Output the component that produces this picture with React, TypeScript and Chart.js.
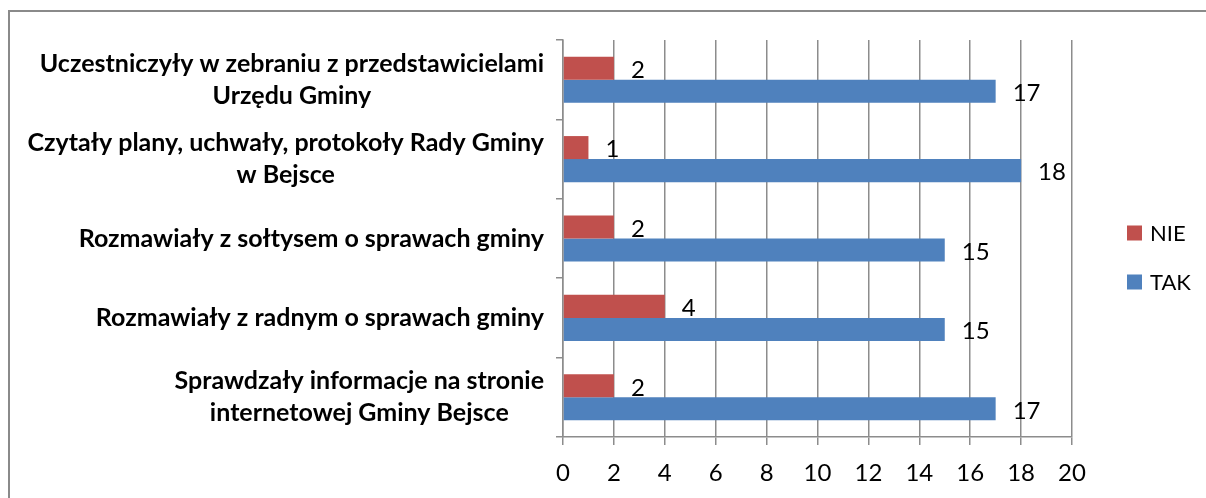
import React, { useEffect, useRef } from "react";
import { Chart, registerables } from "chart.js";

Chart.register(...registerables);

const categories: string[][] = [
  ["Uczestniczyły w zebraniu z przedstawicielami", "Urzędu Gminy"],
  ["Czytały plany, uchwały, protokoły Rady Gminy", "w Bejsce"],
  ["Rozmawiały z sołtysem o sprawach gminy"],
  ["Rozmawiały z radnym o sprawach gminy"],
  ["Sprawdzały informacje na stronie", "internetowej Gminy Bejsce"],
];
const nieValues = [2, 1, 2, 4, 2];
const takValues = [17, 18, 15, 15, 17];
const seriesNames = ["NIE", "TAK"];
const xTicks = [0, 2, 4, 6, 8, 10, 12, 14, 16, 18, 20];

const FONT = "Lato, 'Noto Sans', sans-serif";
const GRID = "#8c8c8c";

const customPlugin = {
  id: "custom",
  beforeDraw(chart: any) {
    const ctx = chart.ctx;
    ctx.save();
    ctx.fillStyle = "#ffffff";
    ctx.fillRect(0, 0, chart.width, chart.height);
    ctx.strokeStyle = "#8a8a8a";
    ctx.lineWidth = 2;
    ctx.beginPath();
    ctx.moveTo(9, chart.height);
    ctx.lineTo(9, 11);
    ctx.lineTo(chart.width, 11);
    ctx.stroke();
    ctx.restore();
  },
  afterDraw(chart: any) {
    const ctx = chart.ctx;
    const yScale = chart.scales.y;
    ctx.save();
    // category labels
    ctx.fillStyle = "#000000";
    ctx.font = `bold 25px ${FONT}`;
    ctx.textBaseline = "middle";
    ctx.textAlign = "center";
    const lineH = 32;
    const rightEdge = 544;
    (chart.data.labels as string[][]).forEach((lab, i) => {
      const yc = yScale.getPixelForValue(i);
      const widths = lab.map((l) => ctx.measureText(l).width);
      const bw = Math.max(...widths);
      const cx = rightEdge - bw / 2;
      const n = lab.length;
      lab.forEach((line, j) => {
        const y = yc + (j - (n - 1) / 2) * lineH;
        ctx.fillText(line, cx, y);
      });
    });
    // data labels
    ctx.font = `24px ${FONT}`;
    ctx.textAlign = "left";
    chart.data.datasets.forEach((ds: any, di: number) => {
      const meta = chart.getDatasetMeta(di);
      meta.data.forEach((bar: any, i: number) => {
        ctx.fillText(String(ds.data[i]), bar.x + 17, bar.y + 2);
      });
    });
    // legend
    const legY = [233, 282];
    ctx.font = `22px ${FONT}`;
    chart.data.datasets.forEach((ds: any, di: number) => {
      ctx.fillStyle = ds.backgroundColor;
      ctx.fillRect(1127, legY[di] - 7.5, 15, 15);
      ctx.fillStyle = "#000000";
      ctx.fillText(ds.label, 1150, legY[di] + 1);
    });
    ctx.restore();
  },
};

export default function App() {
  const ref = useRef<HTMLCanvasElement | null>(null);
  useEffect(() => {
    if (!ref.current) return;
    const chart = new Chart(ref.current, {
      type: "bar",
      data: {
        labels: categories as any,
        datasets: [
          {
            label: seriesNames[0],
            data: nieValues,
            backgroundColor: "#C0504D",
            categoryPercentage: 0.58,
            barPercentage: 1,
          },
          {
            label: seriesNames[1],
            data: takValues,
            backgroundColor: "#4F81BD",
            categoryPercentage: 0.58,
            barPercentage: 1,
          },
        ],
      },
      options: {
        indexAxis: "y",
        animation: false,
        responsive: false,
        maintainAspectRatio: false,
        layout: { padding: { left: 0, top: 40, right: 134, bottom: 0 } },
        plugins: {
          legend: { display: false },
          tooltip: { enabled: false },
        },
        scales: {
          x: {
            min: 0,
            max: 20,
            afterBuildTicks: (axis: any) => {
              axis.ticks = xTicks.map((v) => ({ value: v }));
            },
            afterFit: (axis: any) => {
              axis.height = 61;
            },
            grid: {
              color: GRID,
              lineWidth: 1.5,
              drawTicks: true,
              tickLength: 8,
              tickColor: GRID,
            },
            border: { color: GRID, width: 1.5 },
            ticks: {
              color: "#000000",
              font: { family: FONT, size: 24 },
              padding: 14,
              maxRotation: 0,
            },
          },
          y: {
            offset: true,
            afterFit: (axis: any) => {
              axis.width = 563;
            },
            grid: {
              drawOnChartArea: false,
              drawTicks: true,
              tickLength: 7,
              color: GRID,
              lineWidth: 1.5,
              offset: true,
            },
            border: { color: GRID, width: 1.5 },
            ticks: { display: false },
          },
        },
      },
      plugins: [customPlugin],
    });
    return () => chart.destroy();
  }, []);
  return (
    <canvas
      ref={ref}
      width={1206}
      height={498}
      style={{ position: "fixed", left: 0, top: 0, width: 1206, height: 498 }}
    />
  );
}
